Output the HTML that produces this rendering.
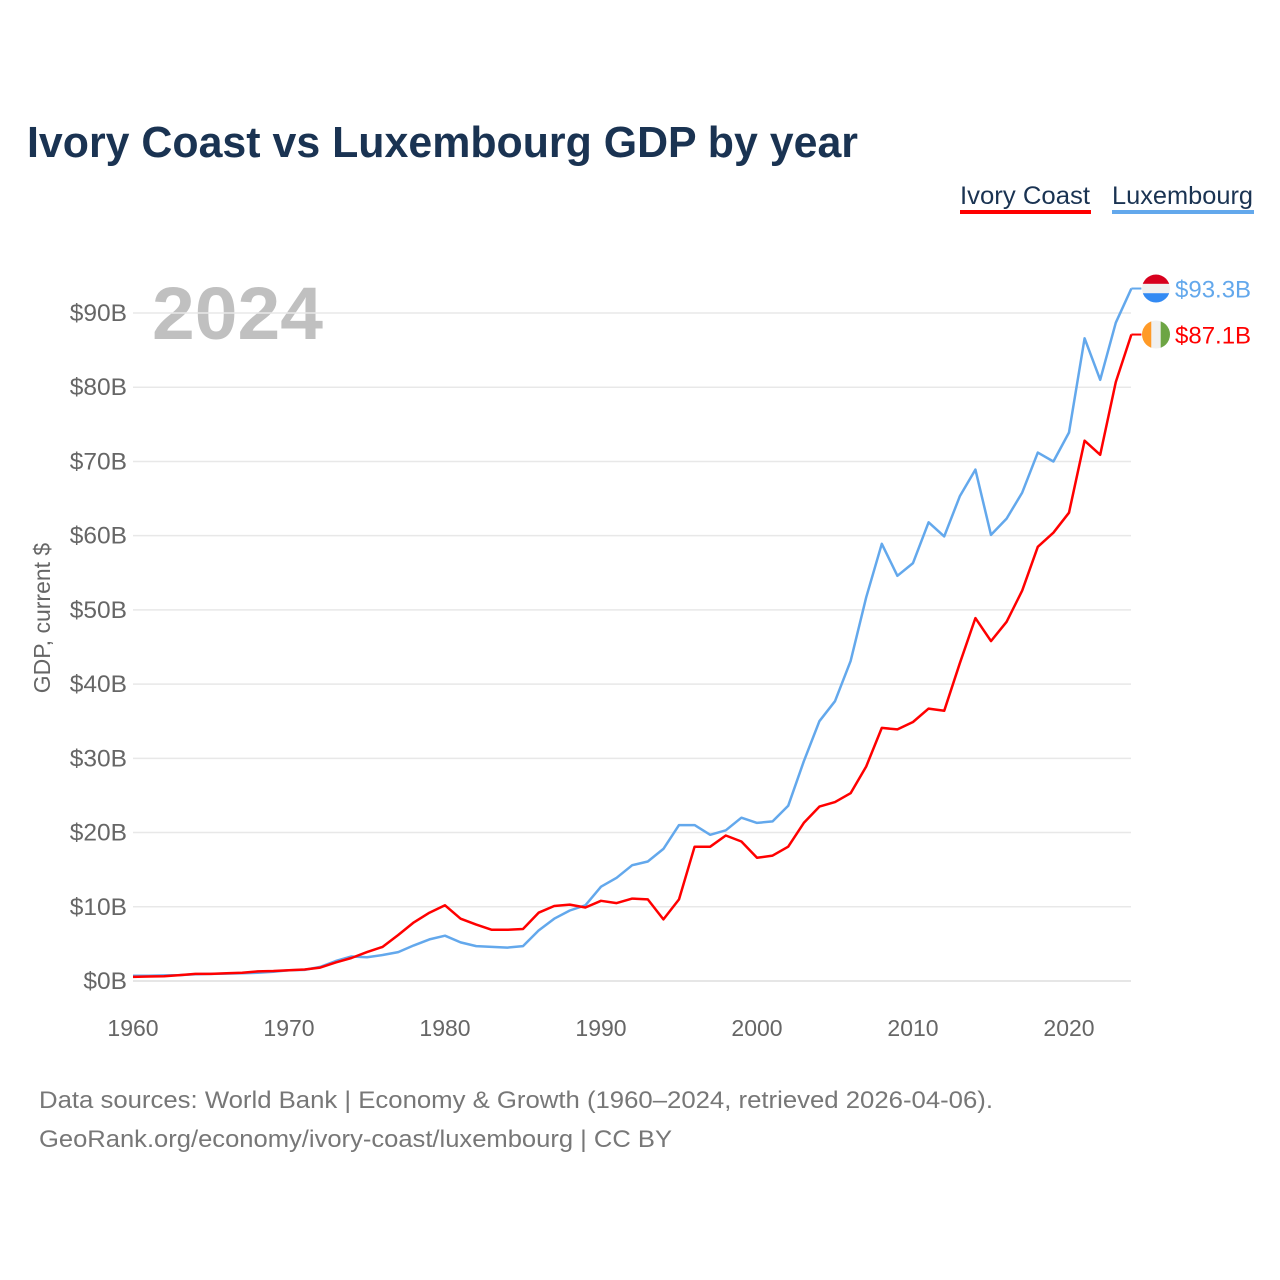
<!DOCTYPE html>
<html><head><meta charset="utf-8"><style>
html,body{margin:0;padding:0;background:#fff;width:1280px;height:1280px;overflow:hidden;font-family:"Liberation Sans",sans-serif;}
</style></head><body>
<svg id="chart" width="1280" height="1280" xmlns="http://www.w3.org/2000/svg" font-family="Liberation Sans, sans-serif">
<text x="27" y="157" font-size="44" font-weight="bold" fill="#1a3352" textLength="831" lengthAdjust="spacingAndGlyphs">Ivory Coast vs Luxembourg GDP by year</text>
<g>
<text x="960" y="204" font-size="25" fill="#1a3352" textLength="130" lengthAdjust="spacingAndGlyphs">Ivory Coast</text>
<rect x="960" y="210" width="131" height="4" fill="#ff0000"/>
</g>
<g>
<text x="1112" y="204" font-size="25" fill="#1a3352" textLength="141" lengthAdjust="spacingAndGlyphs">Luxembourg</text>
<rect x="1112" y="210" width="142" height="4" fill="#63a8ec"/>
</g>
<text x="152" y="339" font-size="74" font-weight="bold" fill="#c0c0c0" textLength="171" lengthAdjust="spacingAndGlyphs">2024</text>
<text transform="translate(50,618) rotate(-90)" text-anchor="middle" font-size="23" fill="#666">GDP, current $</text>
<g id="grid"></g><g id="yticks"></g><g id="xticks"></g><g id="lines"></g><g id="ends"></g>
<text x="39" y="1108" font-size="24" fill="#777" textLength="954" lengthAdjust="spacingAndGlyphs">Data sources: World Bank | Economy &amp; Growth (1960–2024, retrieved 2026-04-06).</text>
<text x="39" y="1147" font-size="24" fill="#777" textLength="633" lengthAdjust="spacingAndGlyphs">GeoRank.org/economy/ivory-coast/luxembourg | CC BY</text>
</svg>
<script>
const years = Array.from({length:65},(_, i)=>1960+i);
const ivoryCoast = [0.55,0.6,0.65,0.8,0.95,0.95,1.05,1.1,1.3,1.35,1.45,1.55,1.8,2.5,3.1,3.9,4.6,6.2,7.9,9.2,10.2,8.4,7.6,6.9,6.9,7.0,9.2,10.1,10.3,9.9,10.8,10.5,11.1,11.0,8.3,11.0,18.1,18.1,19.6,18.8,16.6,16.9,18.1,21.3,23.5,24.1,25.3,28.9,34.1,33.9,34.9,36.7,36.4,42.8,48.9,45.8,48.4,52.6,58.5,60.4,63.1,72.8,70.9,80.7,87.1];
const luxembourg = [0.7,0.72,0.75,0.8,0.9,0.95,1.0,1.05,1.1,1.25,1.45,1.5,1.9,2.7,3.3,3.2,3.5,3.9,4.8,5.6,6.1,5.2,4.7,4.6,4.5,4.7,6.8,8.4,9.5,10.2,12.7,13.9,15.6,16.1,17.8,21.0,21.0,19.7,20.3,22.0,21.3,21.5,23.6,29.6,35.0,37.7,43.1,51.7,58.9,54.6,56.3,61.8,59.9,65.3,68.9,60.1,62.3,65.8,71.2,70.0,73.9,86.6,81.0,88.7,93.3];
const yTicks = [0,10,20,30,40,50,60,70,80,90];
const xTicks = [1960,1970,1980,1990,2000,2010,2020];
const endLabels = ["$93.3B","$87.1B"];

const NS="http://www.w3.org/2000/svg";
const X = y => 133 + (y-1960)*15.6;
const Y = v => 981 - v*7.422;
function mk(tag, attrs, parent){const e=document.createElementNS(NS,tag);for(const k in attrs)e.setAttribute(k,attrs[k]);document.getElementById(parent).appendChild(e);return e;}
yTicks.forEach(t=>{
  const g=mk('line',{x1:133,x2:1131,y1:Y(t),y2:Y(t),stroke:t===0?'#ddd':'#e8e8e8','stroke-width':1.5},'grid');
  
  
  const tx=mk('text',{x:127,y:Y(t)+8,'text-anchor':'end','font-size':24.5,fill:'#666'},'yticks');
  tx.textContent='$'+t+'B';
  
  
});
xTicks.forEach(t=>{
  const tx=mk('text',{x:X(t),y:1036,'text-anchor':'middle','font-size':23,fill:'#666'},'xticks');
  tx.textContent=t;
  
  
});
function line(data,color,name){
  const d=data.map((v,i)=>(i?'L':'M')+X(years[i]).toFixed(1)+','+Y(v).toFixed(1)).join(' ');
  const p=mk('path',{d:d,fill:'none',stroke:color,'stroke-width':2.5,'stroke-linejoin':'round'},'lines');
  
  
}
line(luxembourg,'#63a8ec','luxembourg-line');
line(ivoryCoast,'#ff0000','ivory-coast-line');

const lx=X(2024), ly=Y(luxembourg[luxembourg.length-1]), iy=Y(ivoryCoast[ivoryCoast.length-1]);
mk('line',{x1:lx,x2:lx+10,y1:ly,y2:ly,stroke:'#63a8ec','stroke-width':2},'ends');
mk('line',{x1:lx,x2:lx+10,y1:iy,y2:iy,stroke:'#ff0000','stroke-width':2},'ends');
const cx=1156;
const c1=mk('clipPath',{id:'cl1'},'ends'); c1.appendChild(document.createElementNS(NS,'circle'));
c1.firstChild.setAttribute('cx',cx);c1.firstChild.setAttribute('cy',ly);c1.firstChild.setAttribute('r',14);
const c2=mk('clipPath',{id:'cl2'},'ends'); c2.appendChild(document.createElementNS(NS,'circle'));
c2.firstChild.setAttribute('cx',cx);c2.firstChild.setAttribute('cy',iy);c2.firstChild.setAttribute('r',14);
const fl=mk('g',{'clip-path':'url(#cl1)'},'ends');


[['#d8001e',0],['#f0f0f0',1],['#338af3',2]].forEach(([c,k])=>{const r=document.createElementNS(NS,'rect');r.setAttribute('x',cx-14);r.setAttribute('y',ly-14+k*9.34);r.setAttribute('width',28);r.setAttribute('height',9.4);r.setAttribute('fill',c);fl.appendChild(r);});
const fi=mk('g',{'clip-path':'url(#cl2)'},'ends');


[['#ff9a27',0],['#f0f0f0',1],['#6da544',2]].forEach(([c,k])=>{const r=document.createElementNS(NS,'rect');r.setAttribute('x',cx-14+k*9.34);r.setAttribute('y',iy-14);r.setAttribute('width',9.4);r.setAttribute('height',28);r.setAttribute('fill',c);fi.appendChild(r);});
const t1=mk('text',{x:1175,y:ly+9,'font-size':24,fill:'#63a8ec'},'ends');
t1.textContent=endLabels[0];


const t2=mk('text',{x:1175,y:iy+9,'font-size':24,fill:'#ff0000'},'ends');
t2.textContent=endLabels[1];


</script>
</body></html>
